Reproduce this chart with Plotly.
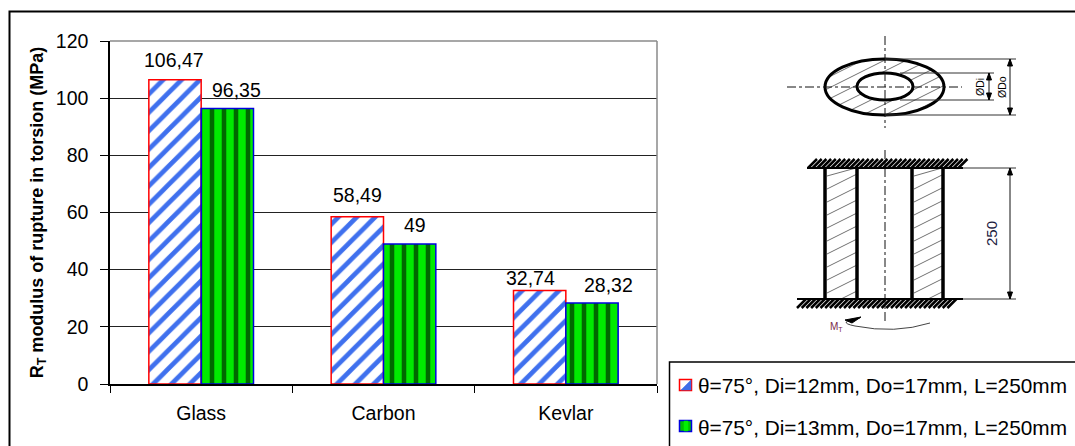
import math
import plotly.graph_objects as go

categories = ["Glass", "Carbon", "Kevlar"]
series_a_name = "θ=75°, Di=12mm, Do=17mm, L=250mm"
series_b_name = "θ=75°, Di=13mm, Do=17mm, L=250mm"
series_a = [106.47, 58.49, 32.74]
series_b = [96.35, 49, 28.32]
y_ticks = [0, 20, 40, 60, 80, 100, 120]

W, H = 1075, 446
L, R, T, B = 110, 657, 41, 384
FONT = "Liberation Sans, Arial, sans-serif"


def px(x):
    return (x - L) / (R - L)


def py(y):
    return 1 - (y - T) / (B - T)


shapes, annotations = [], []


def line(x0, y0, x1, y1, color="#111111", width=1, dash=None):
    shapes.append(dict(type="line", xref="paper", yref="paper", x0=px(x0), y0=py(y0), x1=px(x1), y1=py(y1),
                       line=dict(color=color, width=width, dash=dash), layer="above"))


def oval(x0, y0, x1, y1, width=3, fill=None):
    shapes.append(dict(type="circle", xref="paper", yref="paper", x0=px(x0), y0=py(y0), x1=px(x1), y1=py(y1),
                       line=dict(color="#000000", width=width), fillcolor=fill, layer="above"))


def box(x0, y0, x1, y1, color, width=1, fill="rgba(0,0,0,0)"):
    shapes.append(dict(type="rect", xref="paper", yref="paper", x0=px(x0), y0=py(y0), x1=px(x1), y1=py(y1),
                       line=dict(color=color, width=width), fillcolor=fill, layer="above"))


def poly(points, fill=None, color="#000000", width=1, closed=True):
    d = "M" + " L".join(f"{px(a):.5f},{py(b):.5f}" for a, b in points) + (" Z" if closed else "")
    shapes.append(dict(type="path", xref="paper", yref="paper", path=d, fillcolor=fill,
                       line=dict(color=color, width=width), layer="above"))


def label(x, y, text, size=15, angle=0, color="#000000", anchor="center"):
    annotations.append(dict(xref="paper", yref="paper", x=px(x), y=py(y), text=text, showarrow=False,
                            font=dict(size=size, color=color, family=FONT), textangle=angle,
                            xanchor=anchor, yanchor="middle", borderpad=0, borderwidth=0))


def vdim(x, y0, y1):
    line(x, y0, x, y1, width=1)
    poly([(x, y0), (x - 2.5, y0 + 7), (x + 2.5, y0 + 7)], fill="#000000")
    poly([(x, y1), (x - 2.5, y1 - 7), (x + 2.5, y1 - 7)], fill="#000000")


# outer frame
box(9.5, 11.5, W + 5, H + 5, "#000000", 2)
# plot border (grey top and right edges)
line(L, T, R, T, "#8a8a8a", 1.5)
line(R, T, R, B, "#8a8a8a", 1.5)

# ---- cross-section sketch
cx, cy, ax, ay = 885, 87, 59.5, 28
for c in range(-60, 100, 11):
    a_ = 1 / ax**2 + 0.25 / ay**2
    b_ = -c / ay**2
    c_ = c**2 / ay**2 - 1
    d = b_**2 - 4 * a_ * c_
    if d <= 0:
        continue
    u0 = (-b_ - math.sqrt(d)) / (2 * a_)
    u1 = (-b_ + math.sqrt(d)) / (2 * a_)
    line(cx + u0, cy + c - 0.5 * u0, cx + u1, cy + c - 0.5 * u1, "#333333", 0.7)
oval(825, 59, 944, 115, 3)
oval(857, 73, 913, 100, 3, "#ffffff")
line(885, 36, 885, 128, dash="dashdot")
line(787, 87, 962, 87, dash="dashdot")
line(885, 59, 1016, 59, "#333333")
line(885, 115, 1016, 115, "#333333")
line(900, 73, 994, 73, "#333333")
line(900, 100, 994, 100, "#333333")
vdim(1010, 59, 115)
vdim(989, 73, 100)
label(980, 87, "ØDi", 10.5, -90)
label(1002, 87, "ØDo", 10.5, -90)

# ---- tube side view
line(885, 150, 885, 323, dash="dashdot")
for x0, x1 in [(827, 856), (914, 942)]:
    for y in range(176, 310, 13):
        y0, y1 = y, y - 0.5 * (x1 - x0)
        if y0 > 299:
            k = (299 - y1) / (y0 - y1)
            line(x1 - k * (x1 - x0), 299, x1, y1, "#333333", 0.7)
        else:
            line(x0, y0, x1, max(y1, 168), "#333333", 0.7)
for x in (825, 857, 912, 943):
    line(x, 168, x, 299, "#000000", 3.5)
line(807, 168, 963, 168, "#000000", 2)
line(797, 299, 963, 299, "#000000", 2)
for i in range(33):
    x = 808 + i * 4.7
    line(x, 168, x + 9, 159, "#000000", 2.5)
for i in range(33):
    x = 806 + i * 4.7
    line(x, 299, x - 9, 308, "#000000", 2.5)
line(963, 168, 1016, 168, "#333333")
line(963, 299, 1016, 299, "#333333")
vdim(1010, 168, 299)
label(991, 234, "250", 15, -90, color="#1a1a40")
# torque arrow
shapes.append(dict(type="path", xref="paper", yref="paper", layer="above", line=dict(color="#444444", width=1),
                   path=f"M{px(860)},{py(318)} Q{px(835)},{py(322)} {px(855)},{py(326)} "
                        f"Q{px(895)},{py(334)} {px(930)},{py(323)}"))
poly([(861, 317), (845, 320), (852, 323)], fill="#000000")
label(836, 327, "M<sub>T</sub>", 10, color="#7a2a4a")

# ---- legend box
box(669.5, 362, W + 5, H + 5, "#000000", 1.5)
box(679.5, 379.5, 691.5, 390.5, "#ff0000", 1.5)
poly([(691, 380), (691, 390), (681, 390)], fill="#3f6fe8", color="#3f6fe8", width=0.5)
box(679.5, 420.5, 691.5, 431.5, "#0000e0", 1.5, "#00c000")
poly([(684, 421), (688, 421), (688, 431), (684, 431)], fill="#00f000", color="#00f000", width=0.5)
label(698, 385, series_a_name, 20.8, anchor="left")
label(698, 427, series_b_name, 20.8, anchor="left")

fig = go.Figure()
fig.add_bar(x=categories, y=series_a, name=series_a_name,
            marker=dict(color="#ffffff", line=dict(color="#ff0000", width=1.5),
                        pattern=dict(shape="/", bgcolor="#ffffff", fgcolor="#3f70ee", fgopacity=1, size=13, solidity=0.36)))
fig.add_bar(x=categories, y=series_b, name=series_b_name,
            marker=dict(color="#00dd00", line=dict(color="#0000e0", width=1.5),
                        pattern=dict(shape="|", bgcolor="#00ea00", fgcolor="#006800", fgopacity=1, size=12, solidity=0.38)))

# value labels: horizontal and vertical offsets from the bar top, in pixels
shift_a = [(-1, 20), (0, 22), (-9, 12)]
shift_b = [(9, 19), (5, 19), (17, 18)]
for cat, v, (dx, dy) in zip(categories, series_a, shift_a):
    annotations.append(dict(x=cat, y=v, xref="x", yref="y", text=f"{v:g}".replace(".", ","), showarrow=False,
                            xshift=-26 + dx, yshift=dy, yanchor="middle", font=dict(size=19.5, family=FONT, color="#000")))
for cat, v, (dx, dy) in zip(categories, series_b, shift_b):
    annotations.append(dict(x=cat, y=v, xref="x", yref="y", text=f"{v:g}".replace(".", ","), showarrow=False,
                            xshift=26 + dx, yshift=dy, yanchor="middle", font=dict(size=19.5, family=FONT, color="#000")))

fig.update_layout(
    width=W, height=H, autosize=False, showlegend=False, barmode="group", bargap=0.426, bargroupgap=0,
    margin=dict(l=L, r=W - R, t=T, b=H - B, pad=0, autoexpand=False),
    plot_bgcolor="#ffffff", paper_bgcolor="#ffffff", font=dict(family=FONT, color="#000000"),
    shapes=shapes, annotations=annotations,
    xaxis=dict(type="category", range=[-0.5, 2.5], showline=True, linecolor="#000000", linewidth=1.5, ticks="outside",
               tickson="boundaries", ticklen=7, tickcolor="#000000", tickfont=dict(size=19.5), showgrid=False,
               ticklabelstandoff=11),
    yaxis=dict(range=[0, 120], tickvals=y_ticks, showline=True, linecolor="#000000", linewidth=1.5, ticks="outside",
               ticklen=8, tickcolor="#000000", tickfont=dict(size=19.5), gridcolor="#222222", gridwidth=1, zeroline=False,
               ticklabelstandoff=8,
               title=dict(text="R<sub>T</sub> modulus of rupture in torsion (MPa)",
                          font=dict(size=18, family=FONT, weight="bold"), standoff=8)),
)
fig.write_html("out.html", config=dict(displayModeBar=False),
               post_script="document.body.style.margin='0';document.documentElement.style.overflow='hidden';")
